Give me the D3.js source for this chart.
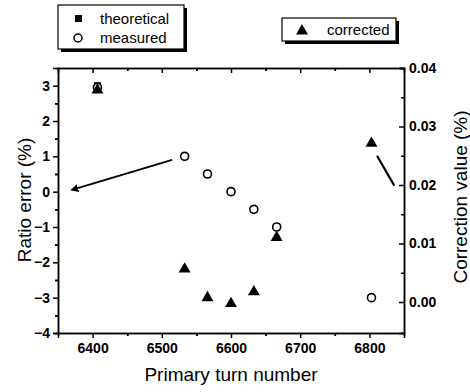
<!DOCTYPE html>
<html>
<head>
<meta charset="utf-8">
<script src="https://cdn.jsdelivr.net/npm/d3@7"></script>
<style>
  body { margin: 0; background: #fff; }
  svg { display: block; font-family: Arial, "Liberation Sans", sans-serif; }
  .axis path, .axis line { stroke: #000; stroke-width: 1.5; }
  .axis text { font-size: 14px; font-weight: bold; fill: #000; }
</style>
</head>
<body>
<svg id="chart" width="470" height="392"></svg>
<script>
// data
var turns       = [6407, 6533, 6566, 6600, 6633, 6666, 6803];
var theoretical = [3.0, 1.0, 0.5, 0.0, -0.5, -1.0, -3.0];
var measured    = [2.95, 1.0, 0.5, 0.0, -0.5, -1.0, -3.0];
var corrected   = [0.0364, 0.0058, 0.0009, -0.0001, 0.0019, 0.0112, 0.0273];

var xTicks  = [6400, 6500, 6600, 6700, 6800];
var yTicks  = [-4, -3, -2, -1, 0, 1, 2, 3];
var y2Ticks = [0.00, 0.01, 0.02, 0.03, 0.04];

// annotation arrows, in data units: [x0, y0, x1, y1]
var leftArrow  = [6515, 0.9, 6370, 0.05];     // left axis
var rightArrow = [6811, 0.025, 6836, 0.0199]; // right axis

var svg = d3.select("#chart");
var L = 58, R = 404, T = 68, B = 333;

var x  = d3.scaleLinear().domain([6350, 6850]).range([L, R]);
var y  = d3.scaleLinear().domain([-4, 3.5]).range([B, T]);
var y2 = d3.scaleLinear().domain([-0.0053, 0.04]).range([B, T]);

/*
  axes
*/
function minors(ticks, step) {
  var out = [];
  ticks.forEach(function(t) { out.push(t + step); out.push(t - step); });
  return out;
}

svg.append("g").attr("class", "axis")
  .attr("transform", "translate(0," + B + ")")
  .call(d3.axisBottom(x).tickValues(xTicks).tickSize(5).tickPadding(5).tickFormat(d3.format("d")));
svg.append("g").attr("class", "axis")
  .attr("transform", "translate(0," + B + ")")
  .call(d3.axisBottom(x).tickValues(minors(xTicks, 50).filter(function(v){return v > 6350 && v < 6850;})).tickSize(3).tickFormat(""));

svg.append("g").attr("class", "axis")
  .attr("transform", "translate(0," + T + ")")
  .call(d3.axisTop(x).tickValues(xTicks).tickSize(-5).tickFormat(""));
svg.append("g").attr("class", "axis")
  .attr("transform", "translate(0," + T + ")")
  .call(d3.axisTop(x).tickValues(minors(xTicks, 50).filter(function(v){return v > 6350 && v < 6850;})).tickSize(-3).tickFormat(""));

svg.append("g").attr("class", "axis")
  .attr("transform", "translate(" + L + ",0)")
  .call(d3.axisLeft(y).tickValues(yTicks).tickSize(5).tickPadding(3).tickFormat(d3.format("d")));
svg.append("g").attr("class", "axis")
  .attr("transform", "translate(" + L + ",0)")
  .call(d3.axisLeft(y).tickValues(minors(yTicks, 0.5).filter(function(v){return v > -4 && v < 3.5;})).tickSize(3).tickFormat(""));

svg.append("g").attr("class", "axis")
  .attr("transform", "translate(" + R + ",0)")
  .call(d3.axisRight(y2).tickValues(y2Ticks).tickSize(-5).tickPadding(5).tickFormat(d3.format(".2f")));
svg.append("g").attr("class", "axis")
  .attr("transform", "translate(" + R + ",0)")
  .call(d3.axisRight(y2).tickValues([0.005, 0.015, 0.025, 0.035]).tickSize(-3).tickFormat(""));

svg.selectAll(".axis .domain").attr("stroke-width", 1.5);

// axis titles
svg.append("text")
  .attr("x", (L + R) / 2).attr("y", 381)
  .attr("text-anchor", "middle")
  .style("font-size", "19px")
  .text("Primary turn number");

svg.append("text")
  .attr("transform", "translate(31," + 200 + ") rotate(-90)")
  .attr("text-anchor", "middle")
  .style("font-size", "19px")
  .text("Ratio error (%)");

svg.append("text")
  .attr("transform", "translate(467," + 197 + ") rotate(-90)")
  .attr("text-anchor", "middle")
  .style("font-size", "19px")
  .text("Correction value (%)");

/*
  markers
*/
var tri = d3.symbol().type(d3.symbolTriangle).size(62);

svg.append("g").selectAll("rect")
  .data(turns)
  .enter().append("rect")
  .attr("x", function(d) { return x(d) - 3.5; })
  .attr("y", function(d, i) { return y(theoretical[i]) - 3.5; })
  .attr("width", 7).attr("height", 7)
  .attr("fill", "#000");

svg.append("g").selectAll("circle")
  .data(turns)
  .enter().append("circle")
  .attr("cx", function(d) { return x(d); })
  .attr("cy", function(d, i) { return y(measured[i]); })
  .attr("r", 4)
  .attr("fill", "#fff")
  .attr("stroke", "#000")
  .attr("stroke-width", 1.6);

svg.append("g").selectAll("path")
  .data(turns)
  .enter().append("path")
  .attr("d", tri)
  .attr("transform", function(d, i) { return "translate(" + x(d) + "," + (y2(corrected[i]) + 1) + ")"; })
  .attr("fill", "#000");

/*
  arrows
*/
var defs = svg.append("defs");
defs.append("marker")
  .attr("id", "arrowhead")
  .attr("viewBox", "0 0 10 10")
  .attr("refX", 8).attr("refY", 5)
  .attr("markerWidth", 4).attr("markerHeight", 4)
  .attr("orient", "auto")
  .append("path")
  .attr("d", "M0,0 L10,5 L0,10 z")
  .attr("fill", "#000");

svg.append("line")
  .attr("x1", x(leftArrow[0])).attr("y1", y(leftArrow[1]))
  .attr("x2", x(leftArrow[2])).attr("y2", y(leftArrow[3]))
  .attr("stroke", "#000").attr("stroke-width", 2)
  .attr("marker-end", "url(#arrowhead)");

svg.append("line")
  .attr("x1", x(rightArrow[0])).attr("y1", y2(rightArrow[1]))
  .attr("x2", x(rightArrow[2])).attr("y2", y2(rightArrow[3]))
  .attr("stroke", "#000").attr("stroke-width", 2.2);

/*
  legends
*/
function legendBox(x0, y0, w, h) {
  svg.append("rect")
    .attr("x", x0 + 3).attr("y", y0 + 3).attr("width", w).attr("height", h)
    .attr("fill", "#000");
  svg.append("rect")
    .attr("x", x0).attr("y", y0).attr("width", w).attr("height", h)
    .attr("fill", "#fff").attr("stroke", "#000").attr("stroke-width", 1.2);
}

legendBox(58, 5, 126, 44);
svg.append("rect").attr("x", 75).attr("y", 15).attr("width", 7).attr("height", 7).attr("fill", "#000");
svg.append("circle").attr("cx", 78).attr("cy", 38).attr("r", 4)
  .attr("fill", "#fff").attr("stroke", "#000").attr("stroke-width", 1.5);
svg.append("text").attr("x", 100).attr("y", 24).style("font-size", "15px").text("theoretical");
svg.append("text").attr("x", 100).attr("y", 43).style("font-size", "15px").text("measured");

legendBox(282, 18, 114, 23);
svg.append("path").attr("d", tri).attr("transform", "translate(302,31)").attr("fill", "#000");
svg.append("text").attr("x", 327).attr("y", 35).style("font-size", "15px").text("corrected");
</script>
</body>
</html>
